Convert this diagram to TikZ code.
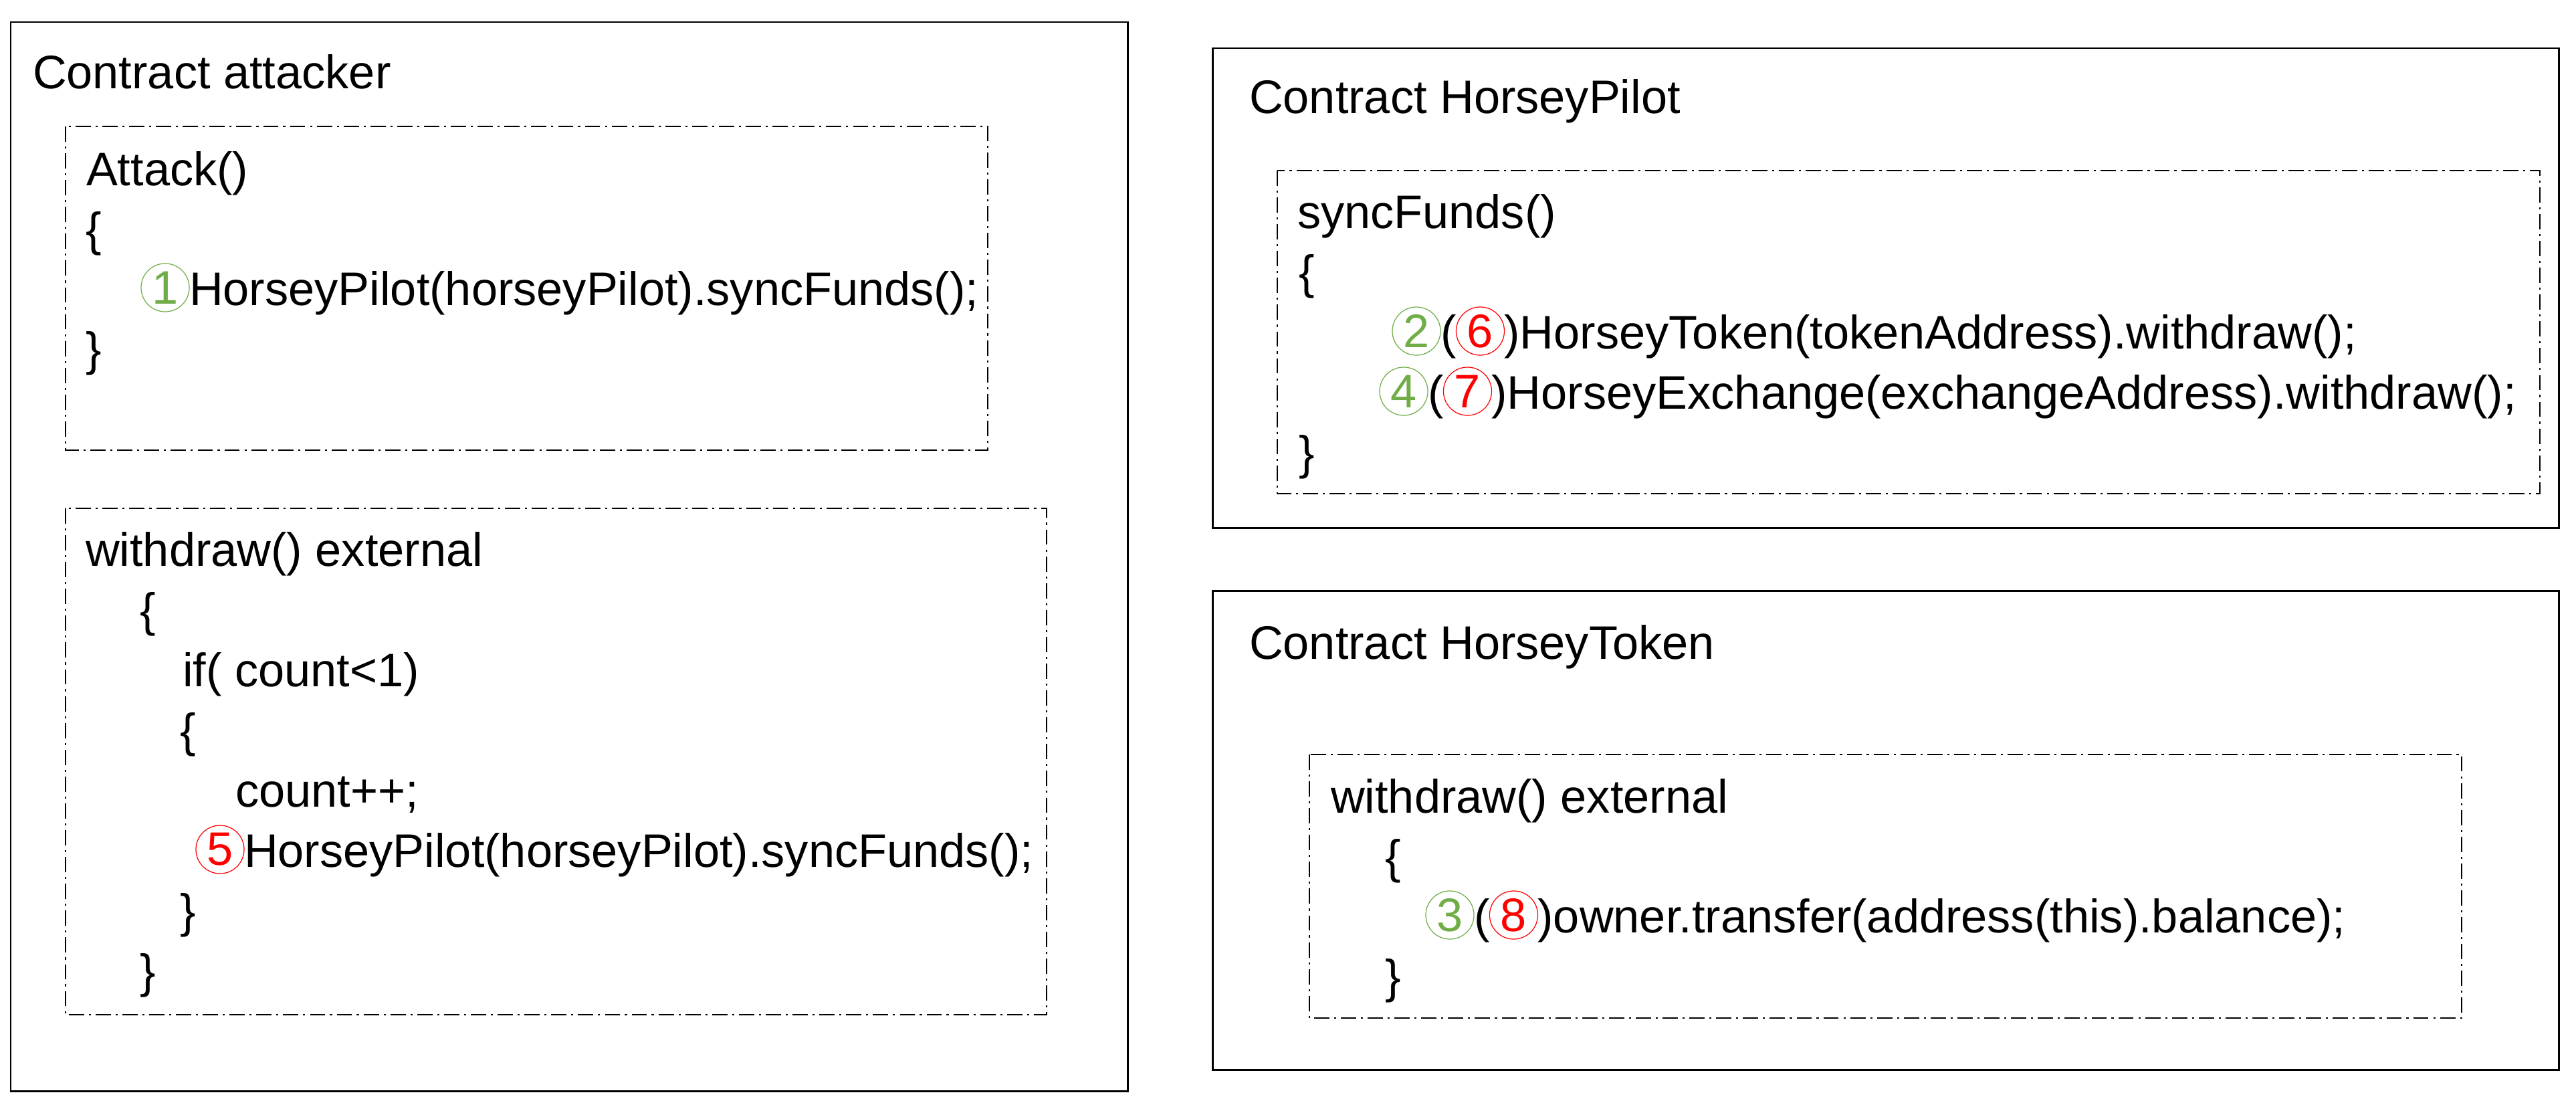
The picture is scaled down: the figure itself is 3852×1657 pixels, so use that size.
\documentclass[tikz,border=0pt]{standalone}
\usepackage{fontspec}
\setmainfont{Liberation Sans}
\definecolor{cgreen}{HTML}{70AD47}
\definecolor{cred}{HTML}{FF0000}
\tikzset{
  solidbox/.style={draw=black, line width=0.85pt},
  dashbox/.style={draw=black, line width=0.7pt, dash pattern=on 6.5pt off 2pt on 0.9pt off 2pt},
  codetext/.style={anchor=base west, inner sep=0pt, outer sep=0pt, font=\fontsize{20pt}{24pt}\selectfont},
  circnum/.style={circle, draw=#1, text=#1, line width=0.35pt, inner sep=0pt, outer sep=0pt, minimum size=0.72cm, font=\fontsize{20pt}{24pt}\selectfont},
}
\begin{document}
\begin{tikzpicture}[x=0.01cm, y=-0.01cm]
\useasboundingbox (0,0) rectangle (3852,1657);
% ---------- boxes ----------
\draw[solidbox] (16,33) rectangle (1686,1631);
\draw[solidbox] (1813,72) rectangle (3826,789);
\draw[solidbox] (1813,883) rectangle (3826,1599);
\draw[dashbox] (98,189) rectangle (1477,673);
\draw[dashbox] (98,760) rectangle (1565,1517);
\draw[dashbox] (1910,255) rectangle (3798,738);
\draw[dashbox] (1958,1128) rectangle (3681,1522);
% ---------- contract attacker ----------
\node[codetext] (atitle) at (49,132) {Contract attacker};
\node[codetext] (aatt) at (129,277) {Attack()};
\node[codetext] (ab1) at (128,367) {\{};
\node[circnum=cgreen] (c1) at (247,430) {1};
\node[codetext] (a1) at ([yshift=-0.26cm]c1.east) {HorseyPilot(horseyPilot).syncFunds();};
\node[codetext] (ab2) at (128,546) {\}};
\node[codetext] (awd) at (128,846) {withdraw() external};
\node[codetext] (aw1) at (209,936) {\{};
\node[codetext] (aw2) at (273,1026) {if( count<1)};
\node[codetext] (aw3) at (269,1116) {\{};
\node[codetext] (aw4) at (352,1206) {count++;};
\node[circnum=cred] (c5) at (329,1270) {5};
\node[codetext] (aw5) at ([yshift=-0.26cm]c5.east) {HorseyPilot(horseyPilot).syncFunds();};
\node[codetext] (aw6) at (269,1386) {\}};
\node[codetext] (aw7) at (209,1476) {\}};
% ---------- contract HorseyPilot ----------
\node[codetext] (ptitle) at (1868,169) {Contract HorseyPilot};
\node[codetext] (psf) at (1940,341) {syncFunds()};
\node[codetext] (pb1) at (1942,431) {\{};
\node[circnum=cgreen] (c2) at (2118,495) {2};
\node[codetext] (pp2) at ([yshift=-0.26cm]c2.east) {(};
\node[circnum=cred, anchor=west] (c6) at ([yshift=0.26cm]pp2.base east) {6};
\node[codetext] (pl2) at ([yshift=-0.26cm]c6.east) {)HorseyToken(tokenAddress).withdraw();};
\node[circnum=cgreen] (c4) at (2099,585) {4};
\node[codetext] (pp4) at ([yshift=-0.26cm]c4.east) {(};
\node[circnum=cred, anchor=west] (c7) at ([yshift=0.26cm]pp4.base east) {7};
\node[codetext] (pl4) at ([yshift=-0.26cm]c7.east) {)HorseyExchange(exchangeAddress).withdraw();};
\node[codetext] (pb2) at (1942,701) {\}};
% ---------- contract HorseyToken ----------
\node[codetext] (ttitle) at (1868,985) {Contract HorseyToken};
\node[codetext] (twd) at (1990,1215) {withdraw() external};
\node[codetext] (tb1) at (2071,1305) {\{};
\node[circnum=cgreen] (c3) at (2168,1368) {3};
\node[codetext] (tp3) at ([yshift=-0.26cm]c3.east) {(};
\node[circnum=cred, anchor=west] (c8) at ([yshift=0.26cm]tp3.base east) {8};
\node[codetext] (tl3) at ([yshift=-0.26cm]c8.east) {)owner.transfer(address(this).balance);};
\node[codetext] (tb2) at (2071,1484) {\}};
\end{tikzpicture}
\end{document}
